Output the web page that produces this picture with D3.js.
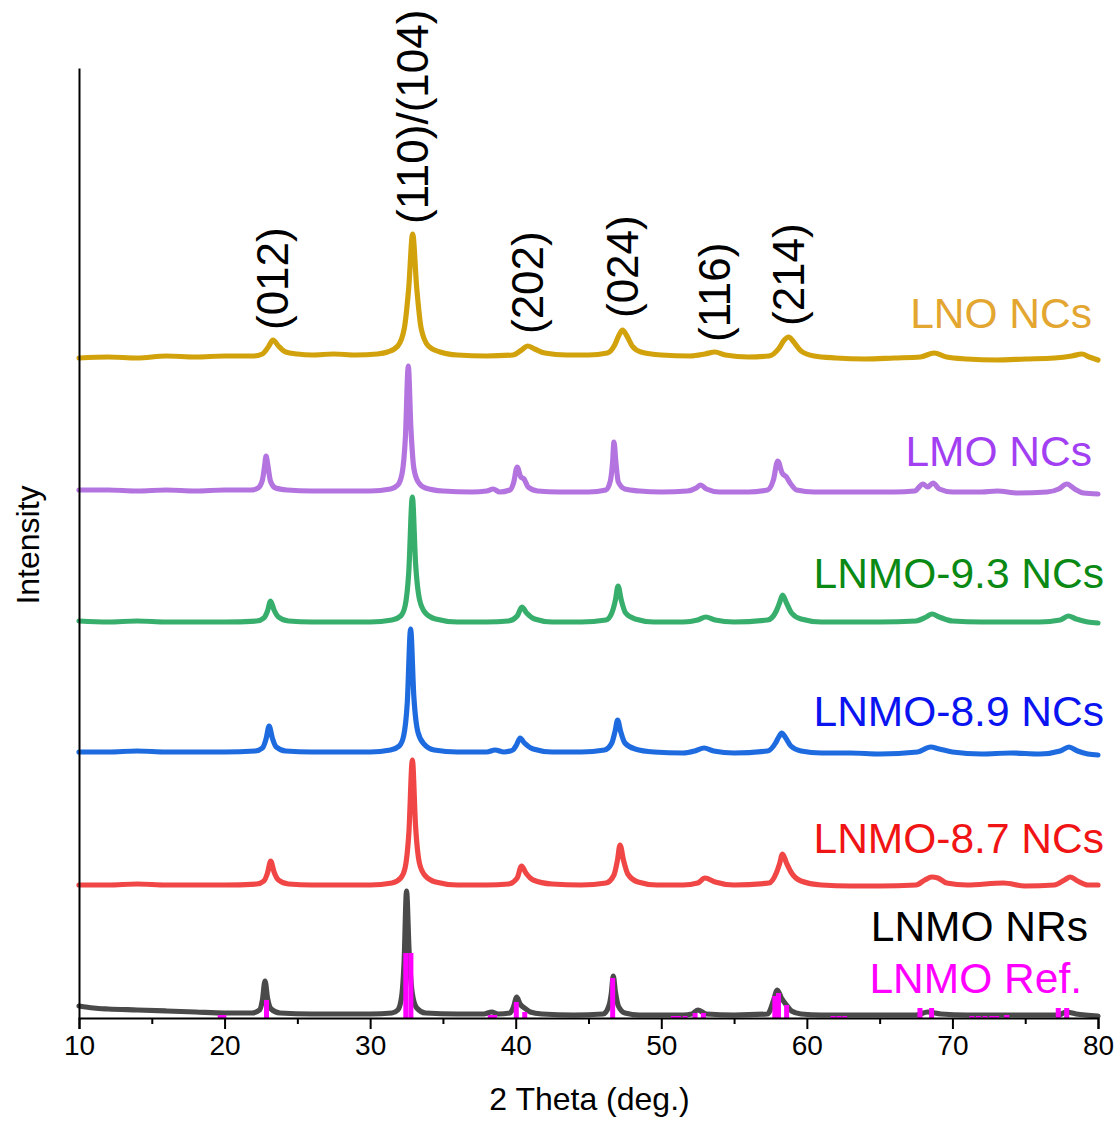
<!DOCTYPE html>
<html>
<head>
<meta charset="utf-8">
<script src="https://cdn.jsdelivr.net/npm/d3@7"></script>
<style>
  html, body { margin: 0; padding: 0; background: #fff; }
  svg text { font-family: "Liberation Sans", Arial, Helvetica, sans-serif; }
</style>
</head>
<body>
<svg id="chart" width="1116" height="1122"></svg>
<script>
// ---------- data (2θ in degrees, intensity in arbitrary units incl. vertical offset) ----------
const xTicks = [10, 20, 30, 40, 50, 60, 70, 80];
const xMinorTicks = [15, 25, 35, 45, 55, 65, 75];

const lnoNCs = [[10,660],[12,661],[14,660],[16,662],[18,661],[20,662],[22,662],
 [22.6,664],[23.0,671],[23.33,678],[23.7,672],[24.2,666],[25,664],[26,663],[27.5,664],[29,663],[30.5,664],
 [31.2,666],[31.9,672],[32.35,690],[32.65,730],[32.92,784],[33.2,730],[33.5,690],[34,672],[34.8,666],[36,663],[38,662],[39.8,663],
 [40.4,668],[40.82,672],[41.3,669],[42,665],[43.5,663],[45,663],[46.3,665],
 [46.8,673],[47.1,683],[47.34,688],[47.6,683],[48,672],[48.6,666],[50,663],[52,662],[53,664],
 [53.69,666],[54.4,663],[56,661],[57.4,662],
 [58.1,670],[58.45,678],[58.75,681],[59.1,676],[59.6,667],[60.5,662],[62,660],[64,659],[66,660],[67.8,661],
 [68.74,665],[69.6,661],[71,659],[73,658],[75,659],[77,660],[78.2,662],[78.9,664],[79.4,661],[80,658]];

const lmoNCs = [[10,528],[12,528],[14,527],[16,528],[18,527],[20,528],[21.8,528],
 [22.3,530],[22.6,538],[22.75,552],[22.85,562],[22.98,552],[23.15,537],[23.5,530],[24.3,528],[26,527],[28,527],[30,527],[31.4,529],
 [31.9,533],[32.2,545],[32.42,580],[32.62,652],[32.8,590],[33.0,550],[33.3,536],[33.8,530],[35,527],[37,526],[38.0,527],[38.45,529],[38.9,526],[39.6,528],
 [39.85,535],[40.1,551],[40.35,541],[40.57,539],[40.85,531],[41.5,527],[43,526],[45,526],[46.2,528],
 [46.5,537],[46.65,555],[46.75,576],[46.88,556],[47.05,536],[47.5,529],[48.5,527],[50,526],[51.8,527],
 [52.4,530],[52.7,533],[53.1,529],[54,526],[56,526],[57.3,528],
 [57.7,538],[58.0,557],[58.3,545],[58.6,541],[58.85,535],[59.3,528],[60.5,526],[62,526],[64,526],[66,526],[67.4,527],
 [67.98,534],[68.3,531],[68.67,535],[69.1,529],[70,526],[72,526],[73.06,527],[74.5,525],[76.5,526],[77.3,529],[77.86,534],[78.4,529],[79,525],[80,524]];

const lnmo93NCs = [[10,397],[12,396],[14,397],[16,396],[18,396],[20,396],[22.2,397],
 [22.7,400],[22.95,407],[23.16,417],[23.4,408],[23.7,401],[24.4,397],[26,396],[28,396],[30,396],[31.5,398],
 [32.1,402],[32.4,412],[32.65,445],[32.9,521],[33.12,455],[33.4,418],[33.8,405],[34.5,399],[36,396],[38,396],[39.5,397],
 [40.1,402],[40.43,411],[40.75,405],[41.3,399],[42.5,396],[44.5,396],[46.2,398],
 [46.6,405],[46.85,418],[47.03,432],[47.25,418],[47.55,405],[48.2,399],[49.5,396],[51.5,396],[52.5,398],
 [53.06,401],[53.7,398],[55,396],[57.3,398],
 [57.9,407],[58.12,415],[58.33,423],[58.6,415],[58.95,405],[59.6,399],[61,396],[63,396],[65,396],[67.5,397],
 [68.2,401],[68.6,404],[69.1,401],[70,397],[72,396],[74,396],[76,396],[77.4,398],[77.95,402],[78.5,399],[79.3,396],[80,395]];

const lnmo89NCs = [[10,266],[12,266],[14,267],[16,266],[18,266],[20,266],[22.1,267],
 [22.6,270],[22.85,279],[23.06,292],[23.28,280],[23.55,271],[24.2,267],[26,266],[28,266],[30,266],[31.4,268],
 [32.0,272],[32.3,282],[32.55,315],[32.78,389],[33.0,322],[33.28,286],[33.7,274],[34.4,268],[36,266],[38,266],[38.58,268],[39.2,266],[39.8,268],
 [40.05,273],[40.3,280],[40.6,275],[41.2,269],[42.5,266],[44.5,266],[46.1,268],
 [46.6,275],[46.83,287],[47.0,298],[47.2,287],[47.5,275],[48.2,269],[49.5,266],[51.5,265],[52.3,267],
 [52.94,270],[53.6,267],[55,265],[57.3,267],
 [57.85,275],[58.07,281],[58.27,285],[58.55,280],[58.9,272],[59.6,267],[61,265],[63,265],[65,264],[67.6,266],
 [68.5,271],[69.1,269],[70,266],[72,264],[74,265],[76,264],[77.4,267],[78.0,271],[78.6,267],[79.3,264],[80,263]];

const lnmo87NCs = [[10,133],[12,133],[14,134],[16,133],[18,133],[20,133],[22.2,134],
 [22.7,137],[22.95,145],[23.17,157],[23.4,146],[23.7,138],[24.4,134],[26,133],[28,133],[30,133],[31.5,135],
 [32.1,140],[32.4,150],[32.66,185],[32.9,258],[33.12,192],[33.4,154],[33.8,142],[34.5,136],[36,133],[38,133],[39.5,134],
 [40.1,140],[40.4,152],[40.7,145],[41.2,138],[42.5,134],[44.5,133],[46.2,135],
 [46.75,143],[46.98,157],[47.17,173],[47.4,158],[47.7,144],[48.4,136],[49.7,133],[51.5,133],[52.5,135],
 [53.0,140],[53.7,136],[55,133],[57.4,135],
 [57.9,145],[58.12,154],[58.33,164],[58.6,155],[58.95,145],[59.6,137],[61,133],[63,132],[65,132],[67.5,133],
 [68.1,138],[68.57,141],[69.0,140],[69.6,135],[71,133],[73.5,135],[75,132],[77,133],[77.7,138],[78.1,141],[78.6,137],[79.3,133],[80,133]];

const lnmoNRs = [[10,12],[11,10],[12,9],[14,8],[16,7],[18,6],[20,5],[21.9,5],
 [22.4,8],[22.6,18],[22.78,37],[22.95,20],[23.2,9],[23.8,5],[26,4],[28,4],[30,4],[31.5,5],
 [31.9,8],[32.15,20],[32.33,55],[32.5,127],[32.68,65],[32.9,24],[33.2,10],[33.8,5],[36,4],[37.8,4],[38.35,6],[38.8,4],[39.6,5],
 [39.85,11],[40.07,21],[40.3,14],[40.6,10],[41.0,6],[41.8,4],[44,3],[46.0,4],
 [46.4,12],[46.57,25],[46.7,42],[46.85,26],[47.05,12],[47.5,5],[48.5,3],[51.5,3],[52.1,4],
 [52.5,8],[53.1,4],[55,3],[57.3,4],
 [57.7,17],[57.97,28],[58.25,20],[58.6,13],[58.95,7],[59.6,4],[61,3],[65,3],[67.5,3],
 [68.3,6],[69.2,4],[71,3],[75,3],[77.3,3],[77.8,6],[78.5,4],[80,2]];

const refPositions = [19.7,19.95,22.88,32.45,32.8,38.25,38.55,40.04,40.62,46.66,50.83,51.17,51.63,52.32,52.89,57.8,58.05,58.61,61.8,62.2,62.6,67.77,68.57,71.33,71.78,72.24,72.7,73.04,73.73,77.27,77.85];
const refIntensities = [3,3,18,65,65,3,3,16,6,40,2,2,2,5,5,22,25,13,2,2,2,10,10,2,2,2,2,2,3,10,10];

const seriesNames = ["LNO NCs","LMO NCs","LNMO-9.3 NCs","LNMO-8.9 NCs","LNMO-8.7 NCs","LNMO NRs"];
const seriesData = [lnoNCs, lmoNCs, lnmo93NCs, lnmo89NCs, lnmo87NCs, lnmoNRs];
const lineColors = ["#D2A20C","#B474E0","#38AE6C","#1E6BE0","#F04646","#4A4A4A"];
const labelColors = ["#E3A630","#A33FF2","#0A8A14","#0A14F0","#F01414","#000000"];
const refName = "LNMO Ref.";

const hklLabels = ["(012)","(110)/(104)","(202)","(024)","(116)","(214)"];
const hklPositions = [23.33,32.92,40.82,47.34,53.69,58.75];

// ---------- layout ----------
const svg = d3.select("#chart");
const margin = {left: 79, right: 18, top: 68, bottom: 104};
const W = 1116, H = 1122;
const x = d3.scaleLinear().domain([10, 80]).range([margin.left, W - margin.right]);
const y = d3.scaleLinear().domain([0, 950]).range([H - margin.bottom, margin.top]);
const y0 = y(0);

// curves
const line = d3.line().x(d => x(d[0])).y(d => y(d[1])).curve(d3.curveMonotoneX);
svg.append("g").selectAll("path").data(seriesData).join("path")
  .attr("d", line)
  .attr("fill", "none")
  .attr("stroke", (d, i) => lineColors[i])
  .attr("stroke-width", 5.2)
  .attr("stroke-linejoin", "round")
  .attr("stroke-linecap", "round");

// reference sticks
svg.append("g").selectAll("line").data(refPositions).join("line")
  .attr("x1", d => x(d)).attr("x2", d => x(d))
  .attr("y1", y0).attr("y2", (d, i) => y(refIntensities[i]))
  .attr("stroke", "#FF00FF")
  .attr("stroke-width", 5);

// axes
const xAxis = d3.axisBottom(x).tickValues(xTicks).tickSize(11).tickPadding(6).tickFormat(d3.format("d"));
const gx = svg.append("g").attr("transform", `translate(0,${y0})`).call(xAxis);
gx.select(".domain").attr("stroke", "#000").attr("stroke-width", 2);
gx.selectAll(".tick line").attr("stroke", "#000").attr("stroke-width", 2);
gx.selectAll(".tick text").attr("font-size", 28).attr("fill", "#000")
  .attr("font-family", '"Liberation Sans", Arial, sans-serif');
const xMinor = d3.axisBottom(x).tickValues(xMinorTicks).tickSize(6).tickFormat("");
const gxm = svg.append("g").attr("transform", `translate(0,${y0})`).call(xMinor);
gxm.select(".domain").remove();
gxm.selectAll(".tick line").attr("stroke", "#000").attr("stroke-width", 2);

const yAxis = d3.axisLeft(y).tickValues([]).tickSize(0);
const gy = svg.append("g").attr("transform", `translate(${margin.left},0)`).call(yAxis);
gy.select(".domain").attr("stroke", "#000").attr("stroke-width", 2);

// axis titles
svg.append("text").attr("x", (x(10) + x(80)) / 2 + 1).attr("y", 1110)
  .attr("text-anchor", "middle").attr("font-size", 32).attr("fill", "#000")
  .text("2 Theta (deg.)");
svg.append("text").attr("transform", `translate(39,545) rotate(-90)`)
  .attr("text-anchor", "middle").attr("font-size", 32).attr("fill", "#000")
  .text("Intensity");

// series labels
const labelPos = [[1092,328],[1092,466],[1104,588],[1104,726],[1104,853],[1088,941]];
svg.append("g").selectAll("text").data(seriesNames).join("text")
  .attr("x", (d, i) => labelPos[i][0]).attr("y", (d, i) => labelPos[i][1])
  .attr("text-anchor", "end").attr("font-size", 42.5)
  .attr("fill", (d, i) => labelColors[i])
  .text(d => d);
svg.append("text").attr("x", 1082).attr("y", 993).attr("text-anchor", "end")
  .attr("font-size", 42.5).attr("fill", "#FF00FF").text(refName);

// hkl annotations (rotated)
const hklBottom = [330, 224, 334, 318, 342, 326];
svg.append("g").selectAll("text").data(hklLabels).join("text")
  .attr("transform", (d, i) => `translate(${x(hklPositions[i]) + 15},${hklBottom[i]}) rotate(-90)`)
  .attr("text-anchor", "start").attr("font-size", 44).attr("fill", "#000")
  .text(d => d);
</script>
</body>
</html>
